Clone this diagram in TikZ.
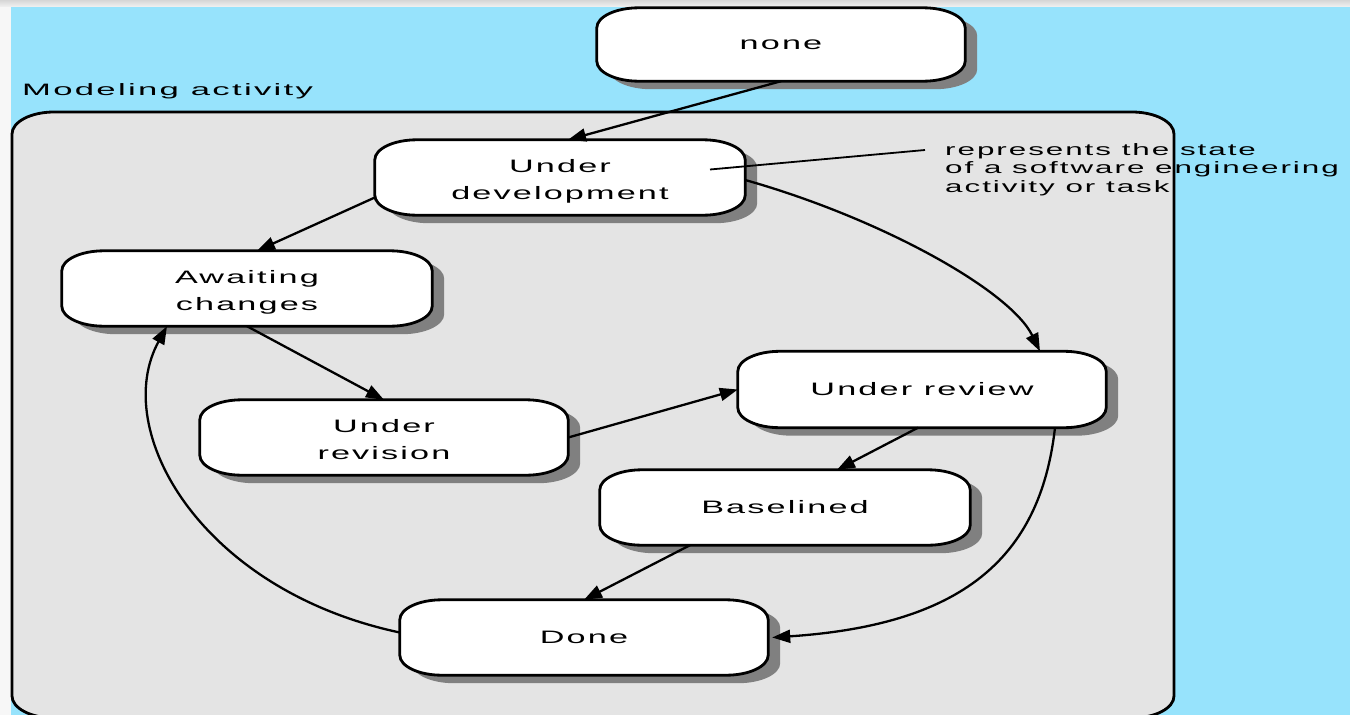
\documentclass[tikz,border=0pt]{standalone}
\usepackage{fontspec}
\setmainfont{Liberation Sans}[FakeStretch=1.9,LetterSpace=12]
\newfontfamily\titlefont{Liberation Sans}[FakeStretch=2.1,LetterSpace=14]
\usetikzlibrary{arrows.meta,calc}
\pgfdeclarelayer{base}
\pgfdeclarelayer{boxes}
\pgfsetlayers{base,boxes,main}

\definecolor{sky}{RGB}{151,227,252}
\definecolor{panelgrey}{RGB}{228,228,228}
\definecolor{shadowgrey}{RGB}{128,128,128}

% rounded rectangle with elliptical corners between two corner points
\newcommand\capsule[5]{%
  \path[#1] let \p1=#2, \p2=#3 in
    (\x1+#4,\y1) -- (\x2-#4,\y1)
    arc[start angle=90,end angle=0,x radius=#4,y radius=#5]
    -- (\x2,\y2+#5)
    arc[start angle=0,end angle=-90,x radius=#4,y radius=#5]
    -- (\x1+#4,\y2)
    arc[start angle=270,end angle=180,x radius=#4,y radius=#5]
    -- (\x1,\y1-#5)
    arc[start angle=180,end angle=90,x radius=#4,y radius=#5]
    -- cycle;}

% drop shadow and white outline behind a state node
\newcommand\statebox[1]{%
  \capsule{fill=shadowgrey}{($(#1.north west)+(12,8)$)}{($(#1.south east)+(12,8)$)}{42pt}{20pt}%
  \capsule{fill=white,draw=black,line width=2.8pt}{(#1.north west)}{(#1.south east)}{42pt}{20pt}}

\tikzset{
  state/.style={shape=rectangle, minimum width=368pt, minimum height=75pt,
    inner sep=0pt, align=center, font=\fontsize{18}{27}\selectfont},
  twoline/.style={text height=44pt, text depth=0pt},
  flow/.style={line width=2.3pt, -{Triangle[length=18pt,width=13pt]}},
  pointer/.style={line width=1.8pt},
}

\begin{document}
\begin{tikzpicture}[x=1pt,y=-1pt]
\useasboundingbox (0,0) rectangle (1350,715);

% states
\node[state, minimum height=73pt] (none) at (781,44.5) {none};
\node[state, twoline, minimum width=370pt] (dev) at (560,177.5) {Under\\development};
\node[state, twoline, minimum width=370pt] (await) at (247,288.5) {Awaiting\\changes};
\node[state, twoline] (revision) at (384,437.5) {Under\\revision};
\node[state, minimum height=76pt] (review) at (922,389.5) {Under review};
\node[state, minimum width=370pt] (baselined) at (785,507.5) {Baselined};
\node[state] (done) at (584,637.5) {Done};

\begin{pgfonlayer}{base}
  % page background
  \fill[white] (0,0) rectangle (1350,715);
  \shade[top color=black!16, bottom color=black!5] (0,0) rectangle (1350,7);
  \fill[black!3] (0,7) rectangle (11,715);
  \fill[sky] (11,7) rectangle (1350,715);
  % activity panel
  \capsule{fill=panelgrey}{(12,112)}{(1174,718)}{42pt}{22pt}
  \node[anchor=base west, inner sep=0pt, font=\titlefont\fontsize{16.5}{20}\selectfont]
    (title) at (22,95) {Modeling activity};
  \node[anchor=north west, inner sep=0pt, align=left,
    font=\fontsize{16.5}{18.5}\selectfont] (note) at (945,143)
    {represents the state\\of a software engineering\\activity or task};
  \capsule{draw=black,line width=2.8pt}{(12,112)}{(1174,718)}{42pt}{22pt}
\end{pgfonlayer}

\begin{pgfonlayer}{boxes}
  \foreach \st in {none,dev,await,revision,review,baselined,done} {\statebox{\st}}
\end{pgfonlayer}

% transitions
\draw[flow] (none.south) -- ($(dev.north)+(8,0)$);
\draw[flow] ($(dev.west)+(0,20)$) -- ($(await.north)+(10,0)$);
\draw[flow] (await.south) -- (revision.north);
\draw[flow] (revision.east) -- (review.west);
\draw[flow] ($(review.south)+(-4,0)$) -- ($(baselined.north)+(52,0)$);
\draw[flow] ($(baselined.south)+(-95,0)$) -- (done.north);
\draw[flow] ($(dev.east)+(0,2.5)$) .. controls (880,218) and (1010,290) .. ($(review.north)+(118,0)$);
\draw[flow] ($(review.south)+(133,0)$) .. controls (1040,560) and (960,625) .. ($(done.east)+(4,0)$);
\draw[flow] ($(done.west)+(0,-5)$) .. controls (200,590) and (110,430) .. ($(await.south)+(-80,0)$);

% annotation pointer
\draw[pointer] ($(dev.center)+(150,-8)$) -- ($(note.north west)+(-20,7)$);
\end{tikzpicture}
\end{document}
